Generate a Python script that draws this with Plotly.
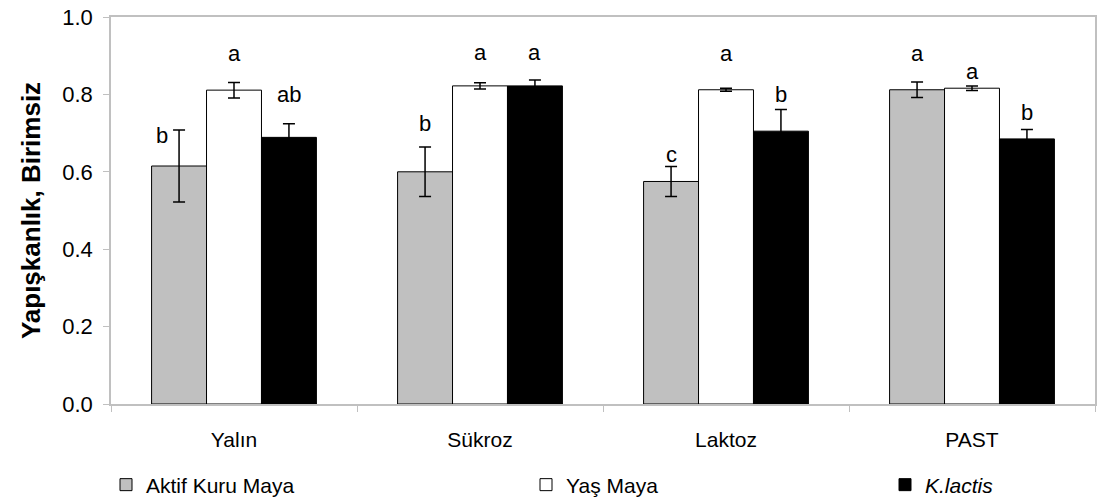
import plotly.graph_objects as go

# --- data -------------------------------------------------------------
categories = ["Yalın", "Sükroz", "Laktoz", "PAST"]

aktif_kuru = [0.615, 0.600, 0.575, 0.812]
aktif_kuru_err = [0.093, 0.064, 0.039, 0.020]

yas_maya = [0.811, 0.822, 0.812, 0.816]
yas_maya_err = [0.020, 0.008, 0.004, 0.006]

k_lactis = [0.689, 0.822, 0.705, 0.685]
k_lactis_err = [0.035, 0.015, 0.056, 0.024]

# significance letters per series
aktif_letters = ["b", "b", "c", "a"]
yas_letters = ["a", "a", "a", "a"]
kl_letters = ["ab", "a", "b", "b"]

FONT = "Liberation Sans, Arial, sans-serif"

# --- layout helpers ---------------------------------------------------
BARGAP = 0.33
BAR_W = (1 - BARGAP) / 3          # width of one bar in category units
# label heights (data units) and horizontal nudges (category units)
aktif_label_y = [0.694, 0.725, 0.645, 0.906]
aktif_label_dx = [-0.07, 0.0, 0.0, 0.0]
yas_label_y = [0.906, 0.908, 0.906, 0.859]
kl_label_y = [0.800, 0.908, 0.800, 0.754]

fig = go.Figure()

err_style = dict(type="data", visible=True, thickness=1.5, width=6, color="black")

fig.add_trace(go.Bar(
    name="Aktif Kuru Maya", x=categories, y=aktif_kuru,
    error_y=dict(array=aktif_kuru_err, **err_style),
    marker=dict(color="#c0c0c0", line=dict(color="black", width=1)),
    legend="legend2",
))
fig.add_trace(go.Bar(
    name="Yaş Maya", x=categories, y=yas_maya,
    error_y=dict(array=yas_maya_err, **err_style),
    marker=dict(color="white", line=dict(color="black", width=1)),
    legend="legend3",
))
fig.add_trace(go.Bar(
    name="<i>K.lactis</i>", x=categories, y=k_lactis,
    error_y=dict(array=k_lactis_err, **err_style),
    marker=dict(color="black", line=dict(color="black", width=1)),
    legend="legend4",
))

annotations = []
for i in range(len(categories)):
    for k, (letters, ys, dxs) in enumerate([
        (aktif_letters, aktif_label_y, aktif_label_dx),
        (yas_letters, yas_label_y, [0.0] * 4),
        (kl_letters, kl_label_y, [0.0] * 4),
    ]):
        annotations.append(dict(
            x=i + (k - 1) * BAR_W + dxs[i], y=ys[i], xref="x", yref="y",
            text=letters[i], showarrow=False, yanchor="middle",
            font=dict(family=FONT, size=22, color="black"),
        ))

legend_common = dict(
    orientation="h", xref="container", yref="container",
    yanchor="middle", y=1 - 485 / 503, xanchor="left",
    font=dict(family=FONT, size=21, color="black"),
    bgcolor="rgba(0,0,0,0)", itemwidth=30,
)

fig.update_layout(
    width=1102, height=503,
    margin=dict(l=111, r=5, t=15, b=99),
    paper_bgcolor="white", plot_bgcolor="white",
    barmode="group", bargap=BARGAP, bargroupgap=0,
    font=dict(family=FONT, size=20, color="black"),
    annotations=annotations,
    showlegend=True,
    legend2=dict(x=106 / 1102, **legend_common),
    legend3=dict(x=526 / 1102, **legend_common),
    legend4=dict(x=885 / 1102, **legend_common),
    xaxis=dict(
        type="category", showline=True, linecolor="#c0c0c0", linewidth=1.5,
        mirror=True, ticks="outside", tickson="boundaries", ticklen=6,
        tickcolor="#c0c0c0", showgrid=False,
        tickfont=dict(family=FONT, size=21, color="black"),
        ticklabelstandoff=16,
    ),
    yaxis=dict(
        range=[0, 1.0], dtick=0.2, tickformat=".1f",
        showline=True, linecolor="#c0c0c0", linewidth=1.5, mirror=True,
        ticks="outside", ticklen=6, tickcolor="#c0c0c0", showgrid=False,
        zeroline=False,
        tickfont=dict(family=FONT, size=22, color="black"),
        ticklabelstandoff=6,
        title=dict(text="<b>Yapışkanlık, Birimsiz</b>",
                   font=dict(family=FONT, size=26, color="black"), standoff=14),
    ),
)

fig.write_html("out.html")
